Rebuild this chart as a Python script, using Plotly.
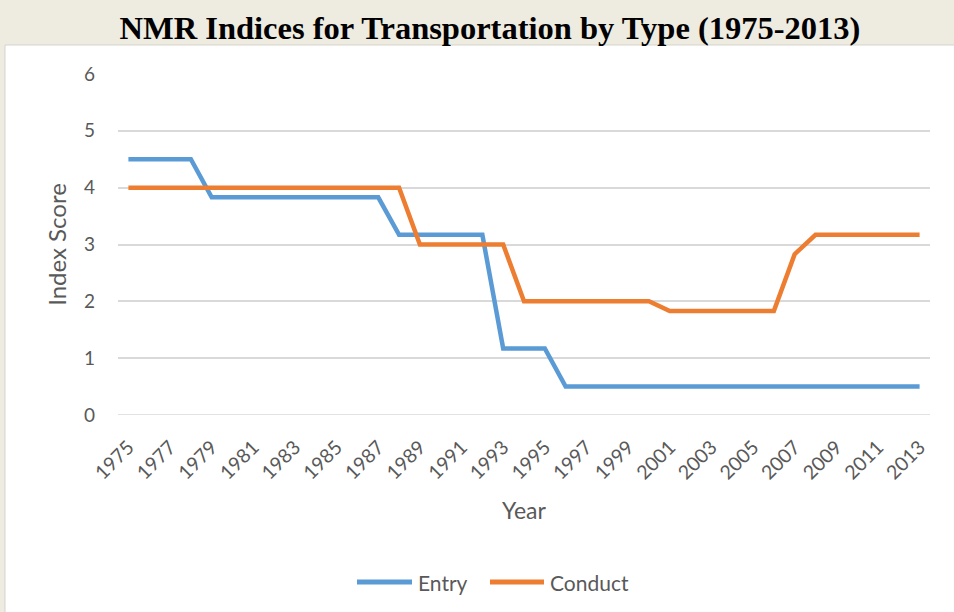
import plotly.graph_objects as go

years = list(range(1975, 2014))
entry = [4.5, 4.5, 4.5, 4.5, 3.83, 3.83, 3.83, 3.83, 3.83, 3.83, 3.83, 3.83, 3.83,
         3.17, 3.17, 3.17, 3.17, 3.17, 1.17, 1.17, 1.17, 0.5, 0.5, 0.5, 0.5, 0.5,
         0.5, 0.5, 0.5, 0.5, 0.5, 0.5, 0.5, 0.5, 0.5, 0.5, 0.5, 0.5, 0.5]
conduct = [4, 4, 4, 4, 4, 4, 4, 4, 4, 4, 4, 4, 4, 4, 3, 3, 3, 3, 3, 2, 2, 2, 2, 2,
           2, 2, 1.83, 1.83, 1.83, 1.83, 1.83, 1.83, 2.83, 3.17, 3.17, 3.17, 3.17,
           3.17, 3.17]
tick_years = list(range(1975, 2014, 2))
series_names = ["Entry", "Conduct"]
series_colors = ["#5B9BD5", "#ED7D31"]

W, H = 954, 612
L, R, T, B = 118, 24, 74, 197
pw, ph = W - L - R, H - T - B

def px2x(px):
    return (px - L) / pw

def py2y(py):
    return (H - B - py) / ph

font = "Lato, Open Sans, sans-serif"
grey = "#595959"

fig = go.Figure()
for name, vals, col in zip(series_names, [entry, conduct], series_colors):
    fig.add_trace(go.Scatter(x=years, y=vals, name=name, mode="lines", showlegend=False,
                             line=dict(color=col, width=4.5)))

# white chart panel
fig.add_shape(type="rect", xref="paper", yref="paper",
              x0=px2x(5), x1=px2x(960), y0=py2y(620), y1=py2y(45),
              fillcolor="white", line=dict(color="#D6D3CA", width=1), layer="below")
# baseline gridline at 0
fig.add_shape(type="line", xref="paper", yref="y", x0=0, x1=1, y0=0, y1=0,
              line=dict(color="#D9D9D9", width=1.5), layer="below")

# legend drawn manually (long line keys)
leg_y = py2y(582)
leg_items = [(357, 412, 416), (490, 544, 548)]
for (lx0, lx1, tx), name, col in zip(leg_items, series_names, series_colors):
    fig.add_shape(type="line", xref="paper", yref="paper", x0=px2x(lx0), x1=px2x(lx1),
                  y0=leg_y, y1=leg_y, line=dict(color=col, width=5))
    fig.add_annotation(xref="paper", yref="paper", x=px2x(tx), y=leg_y, text=name,
                       showarrow=False, xanchor="left", yanchor="middle",
                       font=dict(family=font, size=21, color=grey))

fig.update_layout(
    width=W, height=H,
    margin=dict(l=L, r=R, t=T, b=B),
    paper_bgcolor="#EEEBE1",
    plot_bgcolor="rgba(0,0,0,0)",
    title=dict(text="<b>NMR Indices for Transportation by Type (1975-2013)</b>",
               x=490 / W, xanchor="center", y=1 - 28 / H, yanchor="middle",
               font=dict(family="Liberation Serif, Times New Roman, serif", size=32.5, color="black")),
    showlegend=False,
    xaxis=dict(range=[1974.5, 2013.5], tickvals=tick_years, ticktext=[str(y) for y in tick_years],
               tickangle=-45, showgrid=False, zeroline=False, showline=False, ticks="",
               ticklabelstandoff=16,
               tickfont=dict(family=font, size=19.5, color=grey),
               title=dict(text="Year", font=dict(family=font, size=23, color=grey), standoff=20)),
    yaxis=dict(range=[0, 6], tickvals=[0, 1, 2, 3, 4, 5, 6], showgrid=True, gridcolor="#D9D9D9",
               gridwidth=1.5, zeroline=False, showline=False, ticks="", ticklabelstandoff=22,
               tickfont=dict(family=font, size=19, color=grey),
               title=dict(text="Index Score", font=dict(family=font, size=24, color=grey), standoff=10)),
)

fig.write_html("out.html", config={"displayModeBar": False},
               post_script="document.body.style.margin='0';")
